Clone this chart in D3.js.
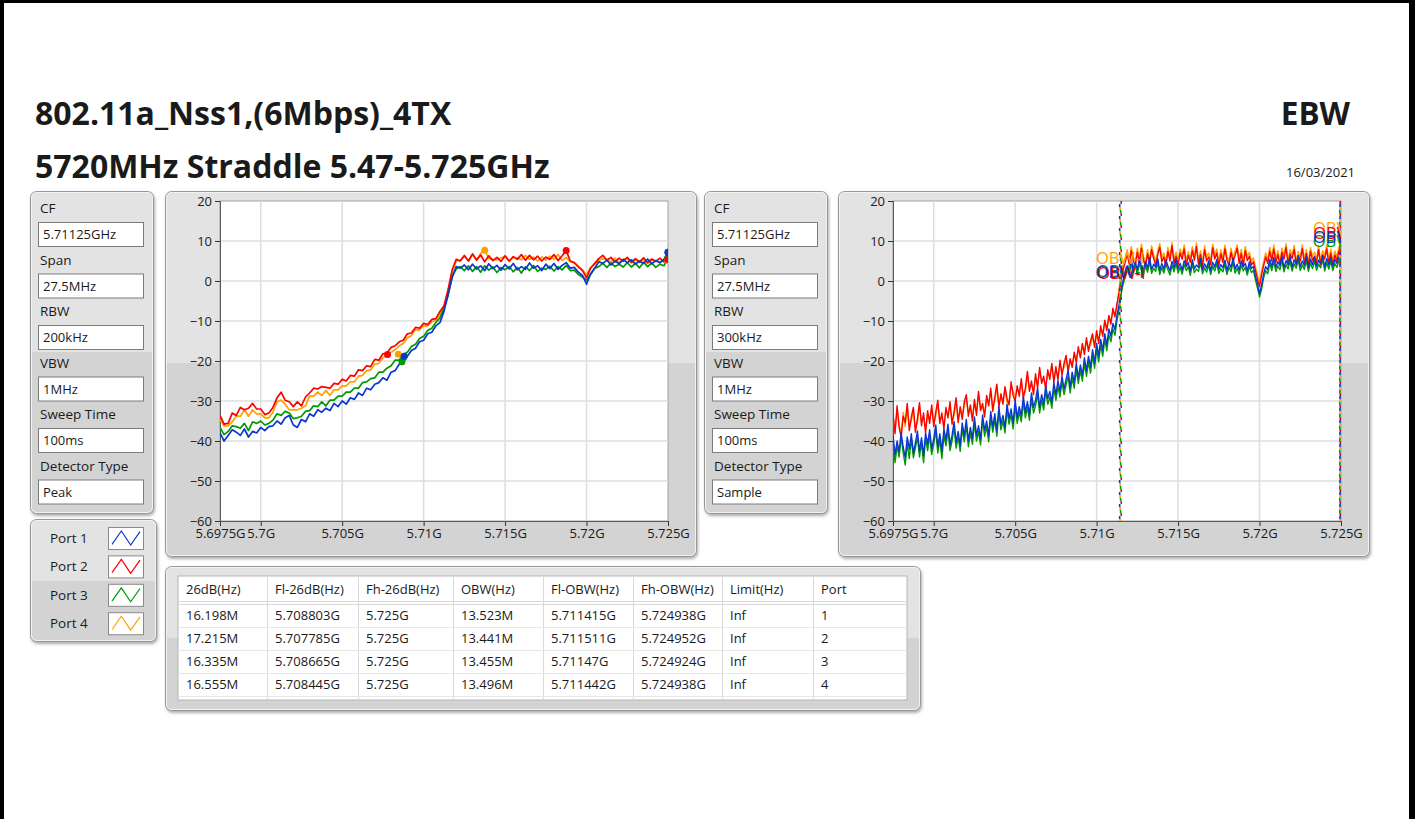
<!DOCTYPE html>
<html>
<head>
<meta charset="utf-8">
<script src="https://cdn.jsdelivr.net/npm/d3@7"></script>
<style>
body { margin: 0; background: #fff; }
svg text { font-family: "Open Sans", "Noto Sans", sans-serif; fill: #1a1a1a; }
</style>
</head>
<body>
<div id="chart"></div>
<script>
// ---- text ----
var title1 = "802.11a_Nss1,(6Mbps)_4TX";
var title2 = "5720MHz Straddle 5.47-5.725GHz";
var testName = "EBW";
var testDate = "16/03/2021";

// ---- analyser settings ----
var settingLabels = ["CF", "Span", "RBW", "VBW", "Sweep Time", "Detector Type"];
var settingsLeft = ["5.71125GHz", "27.5MHz", "200kHz", "1MHz", "100ms", "Peak"];
var settingsRight = ["5.71125GHz", "27.5MHz", "300kHz", "1MHz", "100ms", "Sample"];

// ---- axes ----
var fStart = 5.6975, fStop = 5.725;   // GHz, sweep span
var xTicks = [5.6975, 5.7, 5.705, 5.71, 5.715, 5.72, 5.725];
var xTickLabels = ["5.6975G", "5.7G", "5.705G", "5.71G", "5.715G", "5.72G", "5.725G"];
var yTicks = [20, 10, 0, -10, -20, -30, -40, -50, -60];

// ---- ports ----
var portNames = ["Port 1", "Port 2", "Port 3", "Port 4"];
var portColors = ["#0838d0", "#ff0000", "#009a00", "#ffa200"];

// ---- left chart traces (peak detector, 0.25 MHz points), dBm ----
var peakPort1 = [-38,-40,-38.6,-37.2,-37.8,-38.6,-37,-39,-37.6,-38,
  -36.6,-37.4,-36.4,-36.2,-35,-35.8,-34.2,-33.6,-36,-36.6,
  -34.6,-35.2,-33.2,-33.8,-32.2,-32.8,-31.8,-32.4,-30.6,-31.4,
  -30,-30.8,-29.2,-29.6,-28,-28.6,-26.8,-27.2,-25.8,-25.4,
  -24.2,-24.8,-22.8,-22.4,-20.8,-20.4,-18.8,-17.4,-16.8,-15.2,
  -14.8,-13.2,-12.8,-11.2,-10.4,-7.6,-3.4,0.8,3.6,3.2,
  4.0,2.8,4.2,3.0,3.8,2.6,4.3,3.1,3.9,2.7,
  4.1,3.0,4.4,2.8,3.6,2.9,4.5,3.2,3.8,2.6,
  4.2,3.1,4.4,2.9,3.9,4.6,3.2,3.4,2.2,1.4,
  -0.8,1.8,3.2,4.8,4.4,5.2,4.0,5.0,4.3,5.4,
  4.6,5.3,4.2,5.0,4.4,5.5,4.3,5.1,4.6,5.4,7.2];
var peakPort2 = [-33.6,-35.8,-35.6,-33,-33.6,-31.6,-32.2,-31.8,-30.6,-32,
  -32,-33.4,-33,-31.6,-29.2,-27.8,-29.8,-30.2,-31.4,-30.2,
  -31.2,-29,-28,-26.8,-27,-26.4,-26.6,-26.8,-25.6,-25.8,
  -24.6,-25,-23.6,-23.8,-22.2,-22.4,-21.2,-21.4,-19.6,-19.8,
  -18.2,-18,-16.6,-16.2,-15.2,-14.8,-13.2,-13,-11.6,-11.8,
  -10.6,-10.9,-9.6,-9.4,-7.6,-6.2,-2.2,2.8,5.4,5.0,
  6.4,5.0,6.8,5.2,6.5,4.8,6.3,5.1,5.9,4.9,
  6.3,5.0,6.1,5.4,6.6,5.2,6.4,5.3,6.2,5.0,
  6.0,5.4,6.6,5.1,6.3,7.6,5.0,4.6,3.6,2.6,
  0.8,3.2,4.4,5.6,6.4,5.2,5.9,4.8,5.7,4.9,
  5.9,4.7,5.6,4.8,5.8,4.6,5.5,4.9,5.7,4.8,5.4];
var peakPort3 = [-36.6,-38.4,-37.6,-36.2,-36.4,-36.8,-35.6,-37.4,-35.2,-35.6,
  -35,-36,-35.6,-34.8,-33.2,-33.6,-32.6,-33,-34.4,-34.2,
  -33.8,-32.6,-32.4,-31.2,-31.4,-30.2,-31.2,-29.8,-29.8,-28.8,
  -28.8,-27.8,-27.8,-26.8,-26.8,-25.4,-25.2,-24.4,-24.2,-22.8,
  -22.8,-21.8,-21.2,-19.8,-19.8,-18.4,-17.8,-16.4,-15.8,-14.4,
  -13.8,-12.4,-11.8,-10.4,-9.2,-6.8,-3.6,1.2,3.0,3.6,
  2.6,3.8,2.4,3.6,2.2,3.8,2.7,3.5,2.1,3.4,
  2.8,3.6,2.3,3.4,2.0,3.6,2.6,3.9,2.4,3.2,
  2.9,3.7,2.5,3.6,2.8,3.9,2.6,2.7,1.6,1.0,
  0.2,1.6,3.2,3.6,4.4,3.4,4.5,3.6,4.2,3.5,
  4.6,3.5,4.4,3.3,4.7,3.6,4.5,3.4,4.2,3.8,5.8];
var peakPort4 = [-34.6,-36.2,-36.2,-35.2,-33.8,-33.8,-32.2,-33.8,-32.2,-33.2,
  -33.2,-34.2,-34.2,-32.8,-30.2,-29.8,-30.8,-32.2,-32.2,-32.2,
  -31.8,-31.2,-28.8,-28.8,-27.8,-28.6,-27.4,-28.6,-27.2,-27.2,
  -26.2,-26.2,-25.2,-25.2,-23.8,-23.6,-22.4,-22.2,-20.8,-20.6,
  -19.2,-18.6,-17.8,-17.2,-16.2,-15.6,-14.2,-13.6,-12.2,-12.2,
  -11.2,-11.2,-10.2,-9.8,-8.2,-6.8,-2.8,2.2,5.0,5.2,
  6.2,5.0,6.6,5.4,6.9,7.7,5.6,5.4,5.3,5.8,
  6.1,4.9,5.9,5.8,5.3,6.4,5.4,6.0,5.0,6.0,
  5.2,6.2,5.4,6.6,5.1,5.9,4.8,4.5,3.4,2.8,
  1.6,3.4,4.2,5.2,5.6,5.4,4.7,5.7,4.6,5.4,
  5.7,4.5,5.3,4.6,5.6,4.4,5.2,5.1,4.5,5.3,5.2];

// ---- right chart traces (sample detector, 0.125 MHz points), dBm ----
var samplePort1 = [-38.5,-43.5,-40,-42.8,-37.9,-41.5,-44.2,-39,-42,-38.2,
  -43,-40.5,-37.5,-42.5,-39.2,-43.6,-38,-40.8,-37.2,-42,
  -39.5,-36,-41.5,-38.2,-42.6,-37,-39.8,-35.8,-41,-38.6,
  -35.2,-40.4,-37.6,-41.2,-35.5,-38.8,-34.6,-40,-36.6,-39.4,
  -34,-38.6,-36.2,-39.6,-33.5,-37.4,-35,-38.8,-32.6,-36.5,
  -33.2,-37.4,-31.5,-35.8,-33.6,-36.6,-30.8,-34.4,-32,-35.6,
  -29.8,-34.2,-31.4,-33.8,-28.9,-32.8,-30.2,-33.4,-28,-31.6,
  -29.8,-26.8,-31.6,-28.4,-30.8,-26.2,-29.4,-27.6,-30.4,-25.4,
  -28.4,-25,-27.6,-23.8,-27,-24.6,-22.4,-26.6,-22.8,-25.4,
  -20.6,-24.2,-21,-23.6,-19.2,-22.4,-18.8,-21.6,-17.2,-20.4,
  -15.6,-18.8,-14.6,-17.4,-13.2,-16,-12,-13.8,-10.6,-12.2,
  -8.5,-6,-2.4,0.2,1.8,3.6,2.6,5.2,3.2,4.6,
  2.8,5.4,3.6,2.4,4.8,3.2,5.8,2.9,4.2,3.4,
  5.6,2.6,4.4,3.0,5.2,3.8,2.5,4.9,3.3,5.5,
  3.0,4.4,2.7,5.1,3.6,4.6,2.4,5.3,3.1,4.0,
  3.4,5.6,2.8,4.3,3.2,5.0,2.6,4.7,3.5,5.4,
  2.9,4.1,3.3,5.2,2.6,4.5,3.4,5.7,3.0,4.2,
  2.7,5.0,3.5,4.4,2.5,4.8,3.1,3.6,1.2,-0.8,
  -3.2,-1.0,1.8,3.6,2.8,5.4,3.6,5.9,3.4,4.8,
  3.8,6.2,3.3,5.1,4.0,6.0,3.5,5.3,4.2,6.3,
  3.6,5.0,3.9,6.1,3.4,5.5,4.1,6.0,3.7,5.2,
  4.3,6.4,3.5,5.6,4.0,5.9,3.6,5.4,4.4,6.0,5.0];
var samplePort2 = [-33,-38.2,-31.2,-36.6,-39,-33.8,-35.4,-30.6,-37.4,-34,
  -31.6,-37.8,-34.4,-30.4,-36.2,-33,-38,-32.4,-35.6,-31,
  -36.4,-32.8,-29.8,-35.6,-33,-37,-31.6,-34.2,-30.2,-35.8,
  -32.6,-29.2,-35.4,-31.4,-34.6,-30.2,-28.4,-33.8,-31,-35,
  -29.6,-33.6,-27.6,-32.4,-30.6,-34,-28.6,-31.2,-26.8,-32.6,
  -29,-25.8,-31.6,-28.2,-30.8,-26.4,-29.4,-31,-25.2,-28.6,
  -30,-26.2,-28.8,-24.4,-29.4,-26.8,-22.6,-27.6,-25,-28.4,
  -23.2,-26.8,-21.6,-25.6,-23.8,-27,-22.2,-24.6,-20.6,-25.4,
  -21.4,-24.8,-19.8,-23.6,-20.6,-18.6,-22.8,-19.4,-21.6,-17.8,
  -20.4,-16.4,-19.2,-15.6,-18.4,-14.2,-17.6,-15,-13.2,-16.6,
  -12.4,-15.6,-11.2,-13.8,-9.8,-12.4,-8.6,-10.8,-6.8,-9,
  -5.6,-3,0.4,2.8,4.6,6.8,4.2,7.6,5.0,3.8,
  7.2,4.6,8.2,5.2,3.6,6.8,4.4,7.8,5.6,3.9,
  6.6,8.4,4.8,6.0,3.8,7.4,5.0,8.8,4.4,6.2,
  4.0,7.0,5.4,8.0,3.9,6.4,4.6,7.6,5.2,8.6,
  4.2,6.6,3.6,7.8,5.0,6.0,4.1,8.3,5.5,7.0,
  3.8,6.8,4.6,8.0,5.2,3.9,7.2,4.8,6.4,8.2,
  4.4,6.9,3.7,7.6,5.1,6.2,4.0,4.8,2.6,0.4,
  -1.4,1.6,3.8,6.0,4.4,7.4,5.0,8.0,4.6,6.6,
  3.9,7.2,5.4,8.4,4.2,6.8,5.6,7.9,4.0,6.4,
  5.0,8.1,4.4,6.9,3.8,7.4,5.2,6.2,4.6,7.8,
  4.1,6.6,5.5,8.0,4.3,7.0,3.9,6.5,5.0,7.6,6.0];
var samplePort3 = [-40,-45.4,-41.2,-44,-39,-43,-46,-40.6,-44.4,-39.4,
  -44.2,-41.8,-39,-44,-40.4,-45.4,-39.4,-42.4,-38.6,-43.4,
  -40.8,-37.4,-43,-39.6,-44.4,-38.6,-41.2,-37.2,-42.4,-40,
  -36.6,-41.8,-39,-42.6,-36.8,-40.2,-36,-41.4,-38,-40.8,
  -35.4,-40,-37.6,-41,-34.8,-38.8,-36.4,-40.2,-34,-37.8,
  -34.6,-38.8,-32.8,-37.2,-35,-38,-32.2,-35.8,-33.4,-37,
  -31.2,-35.6,-32.8,-35.2,-30.2,-34.2,-31.6,-34.8,-29.4,-33,
  -31.2,-28.2,-33,-29.8,-32.2,-27.6,-30.8,-29,-31.8,-26.8,
  -29.8,-26.4,-29,-25.2,-28.4,-26,-23.8,-28,-24.2,-26.8,
  -22,-25.6,-22.4,-25,-20.6,-23.8,-20.2,-23,-18.6,-21.8,
  -17,-20.2,-16,-18.8,-14.6,-17.4,-13.4,-15.2,-12,-13.6,
  -9.8,-7.2,-3.4,-0.8,1.0,2.6,1.6,4.2,2.2,3.6,
  1.8,4.4,2.6,1.4,3.8,2.2,4.8,1.9,3.2,2.4,
  4.6,1.6,3.4,2.0,4.2,2.8,1.5,3.9,2.3,4.5,
  2.0,3.4,1.7,4.1,2.6,3.6,1.4,4.3,2.1,3.0,
  2.4,4.6,1.8,3.3,2.2,4.0,1.6,3.7,2.5,4.4,
  1.9,3.1,2.3,4.2,1.6,3.5,2.4,4.7,2.0,3.2,
  1.7,4.0,2.5,3.4,1.5,3.8,2.1,2.6,0.2,-1.8,
  -4.0,-2.0,0.8,2.6,1.8,4.4,2.6,4.9,2.4,3.8,
  2.8,5.2,2.3,4.1,3.0,5.0,2.5,4.3,3.2,5.3,
  2.6,4.0,2.9,5.1,2.4,4.5,3.1,5.0,2.7,4.2,
  3.3,5.4,2.5,4.6,3.0,4.9,2.6,4.4,3.4,5.0,4.0];
var samplePort4 = [-34,-37.2,-32.2,-35.6,-38.4,-32.8,-36.4,-31.6,-36.4,-35,
  -32.6,-36.8,-35.4,-31.4,-35.2,-34,-37,-33.4,-34.6,-32,
  -35.4,-33.8,-30.8,-34.6,-34,-36,-32.6,-33.2,-31.2,-34.8,
  -33.6,-30.2,-34.4,-32.4,-33.6,-31.2,-29.4,-32.8,-32,-34,
  -30.6,-32.6,-28.6,-31.4,-31.6,-33,-29.6,-30.2,-27.8,-31.6,
  -30,-26.8,-30.6,-29.2,-29.8,-27.4,-30.4,-30,-26.2,-27.6,
  -29,-27.2,-27.8,-25.4,-28.4,-27.8,-23.6,-26.6,-26,-27.4,
  -24.2,-25.8,-22.6,-24.6,-24.8,-26,-23.2,-23.6,-21.6,-24.4,
  -22.4,-23.8,-20.8,-22.6,-21.6,-19.6,-21.8,-20.4,-20.6,-18.8,
  -19.4,-17.4,-18.2,-16.6,-17.4,-15.2,-16.6,-16,-14.2,-15.6,
  -13.4,-14.6,-12.2,-12.8,-10.8,-11.4,-9.6,-9.8,-7.8,-8,
  -6.6,-2,1.4,3.8,5.6,7.8,5.2,8.6,6.0,4.8,
  8.2,5.6,9.2,6.2,4.6,7.8,5.4,8.8,6.6,4.9,
  7.6,9.4,5.8,7.0,4.8,8.4,6.0,9.6,5.4,7.2,
  5.0,8.0,6.4,9.0,4.9,7.4,5.6,8.6,6.2,9.5,
  5.2,7.6,4.6,8.8,6.0,7.0,5.1,9.2,6.5,8.0,
  4.8,7.8,5.6,9.0,6.2,4.9,8.2,5.8,7.4,9.1,
  5.4,7.9,4.7,8.6,6.1,7.2,5.0,5.8,3.6,1.4,
  -0.4,2.6,4.8,7.0,5.4,8.4,6.0,9.0,5.6,7.6,
  4.9,8.2,6.4,9.3,5.2,7.8,6.6,8.9,5.0,7.4,
  6.0,9.0,5.4,7.9,4.8,8.4,6.2,7.2,5.6,8.8,
  5.1,7.6,6.5,9.0,5.3,8.0,4.9,7.5,6.0,8.6,7.0];

// ---- peak markers (left chart) ----
var peakFreq = [5.725, 5.71875, 5.725, 5.71375];
var peakLevel = [7.2, 7.6, 5.8, 7.7];

// ---- results table ----
var tableHeader = ["26dB(Hz)", "Fl-26dB(Hz)", "Fh-26dB(Hz)", "OBW(Hz)", "Fl-OBW(Hz)", "Fh-OBW(Hz)", "Limit(Hz)", "Port"];
var bw26 = [16.198, 17.215, 16.335, 16.555];            // MHz
var fl26 = [5.708803, 5.707785, 5.708665, 5.708445];    // GHz
var fh26 = [5.725, 5.725, 5.725, 5.725];
var obw = [13.523, 13.441, 13.455, 13.496];             // MHz
var flObw = [5.711415, 5.711511, 5.71147, 5.711442];
var fhObw = [5.724938, 5.724952, 5.724924, 5.724938];
var limit = ["Inf", "Inf", "Inf", "Inf"];
var portNo = [1, 2, 3, 4];

// ---- cursor label heights (right chart), dB ----
var obwLoLabel = [2.4, 2.1, 2.7, 5.8];
var obwHiLabel = [11.2, 12.2, 10.2, 13.4];

// Adds the svg canvas
var svg = d3.select("#chart").append("svg")
  .attr("width", 1415)
  .attr("height", 819);

var defs = svg.append("defs");
var shadow = defs.append("filter").attr("id", "shadow")
  .attr("x", "-5%").attr("y", "-5%").attr("width", "115%").attr("height", "120%");
shadow.append("feDropShadow").attr("dx", 1).attr("dy", 2).attr("stdDeviation", 1.5)
  .attr("flood-color", "#666").attr("flood-opacity", 0.55);

function panelGradient(split) {
  var id = "pg" + Math.round(split * 100);
  if (!defs.select("#" + id).empty()) return id;
  var g = defs.append("linearGradient").attr("id", id)
    .attr("x1", 0).attr("y1", 0).attr("x2", 0).attr("y2", 1);
  g.append("stop").attr("offset", 0).attr("stop-color", "#e3e3e3");
  g.append("stop").attr("offset", split).attr("stop-color", "#e3e3e3");
  g.append("stop").attr("offset", split).attr("stop-color", "#d3d3d3");
  g.append("stop").attr("offset", 1).attr("stop-color", "#d3d3d3");
  return id;
}

// page frame
svg.append("rect").attr("x", 0).attr("y", 0).attr("width", 4).attr("height", 819).attr("fill", "#000");
svg.append("rect").attr("x", 0).attr("y", 0).attr("width", 1415).attr("height", 3).attr("fill", "#000");
svg.append("rect").attr("x", 1409).attr("y", 0).attr("width", 6).attr("height", 819).attr("fill", "#000");

// titles
svg.append("text").attr("x", 35).attr("y", 125).attr("font-size", 32).attr("font-weight", "bold").text(title1);
svg.append("text").attr("x", 35).attr("y", 178).attr("font-size", 32).attr("font-weight", "bold").text(title2);
svg.append("text").attr("x", 1350).attr("y", 125).attr("font-size", 31.5).attr("font-weight", "bold")
  .attr("text-anchor", "end").text(testName);
svg.append("text").attr("x", 1355).attr("y", 177).attr("font-size", 13)
  .attr("text-anchor", "end").text(testDate);

function panel(x, y, w, h, split) {
  svg.append("rect").attr("x", x + 0.5).attr("y", y + 0.5).attr("width", w).attr("height", h).attr("rx", 6)
    .attr("fill", "url(#" + panelGradient(split || 0.5) + ")").attr("stroke", "#979797").attr("filter", "url(#shadow)");
  svg.append("rect").attr("x", x + 1.5).attr("y", y + 1.5).attr("width", w - 2).attr("height", h - 2).attr("rx", 5)
    .attr("fill", "none").attr("stroke", "#f2f2f2");
}

// settings panels
function settingsPanel(x, y, values) {
  panel(x, y, 123, 322, 0.5);
  settingLabels.forEach(function(lab, i) {
    var top = y + 31 + i * 51.5;
    svg.append("text").attr("x", x + 10).attr("y", top - 9).attr("font-size", 13.5).text(lab);
    svg.append("rect").attr("x", x + 8.5).attr("y", top + 0.5).attr("width", 105).attr("height", 24)
      .attr("fill", "#fff").attr("stroke", "#7c7c7c");
    svg.append("text").attr("x", x + 13).attr("y", top + 17).attr("font-size", 13).text(values[i]);
  });
}
settingsPanel(30, 191, settingsLeft);
settingsPanel(704, 191, settingsRight);

// spectrum chart
function drawChart(id, px, py, traces, lineW) {
  var plot = {x0: px + 55, x1: px + 503, y0: py + 10, y1: py + 330};
  panel(px, py, 531, 365, 0.47);

  var x = d3.scaleLinear().domain([fStart, fStop]).range([plot.x0, plot.x1]);
  var y = d3.scaleLinear().domain([-60, 20]).range([plot.y1, plot.y0]);

  svg.append("rect").attr("x", plot.x0).attr("y", plot.y0)
    .attr("width", plot.x1 - plot.x0).attr("height", plot.y1 - plot.y0)
    .attr("fill", "#fff").attr("stroke", "#a2a2a2");

  defs.append("clipPath").attr("id", id).append("rect")
    .attr("x", plot.x0).attr("y", plot.y0)
    .attr("width", plot.x1 - plot.x0).attr("height", plot.y1 - plot.y0);

  var grid = svg.append("g").attr("stroke", "#dedede").attr("stroke-width", 1.5);
  grid.selectAll(".gx").data(xTicks.slice(1, -1)).enter().append("line")
    .attr("x1", function(d) { return x(d); }).attr("x2", function(d) { return x(d); })
    .attr("y1", plot.y0).attr("y2", plot.y1);
  grid.selectAll(".gy").data(yTicks.slice(1, -1)).enter().append("line")
    .attr("y1", function(d) { return y(d); }).attr("y2", function(d) { return y(d); })
    .attr("x1", plot.x0).attr("x2", plot.x1);

  var xAxis = d3.axisBottom(x).tickValues(xTicks)
    .tickFormat(function(d, i) { return xTickLabels[i]; }).tickSize(5).tickPadding(3);
  var yAxis = d3.axisLeft(y).tickValues(yTicks).tickSize(5).tickPadding(3);

  var gx = svg.append("g").attr("transform", "translate(0," + plot.y1 + ")").call(xAxis);
  var gy = svg.append("g").attr("transform", "translate(" + plot.x0 + ",0)").call(yAxis);
  [gx, gy].forEach(function(g) {
    g.attr("font-family", null).attr("font-size", 13);
    g.select(".domain").attr("stroke", "#5a5a5a");
    g.selectAll(".tick line").attr("stroke", "#333");
    g.selectAll(".tick text").attr("fill", "#222");
  });

  var layer = svg.append("g").attr("clip-path", "url(#" + id + ")");
  [3, 2, 1, 0].forEach(function(p) {
    var vals = traces[p];
    var step = (fStop - fStart) / (vals.length - 1);   // sweep points are evenly spaced
    var line = d3.line()
      .x(function(d, i) { return x(fStart + i * step); })
      .y(function(d) { return y(d); });
    layer.append("path").attr("d", line(vals))
      .attr("fill", "none").attr("stroke", portColors[p]).attr("stroke-width", lineW)
      .attr("stroke-linejoin", "round");
  });
  return {x: x, y: y, layer: layer};
}

var leftTraces = [peakPort1, peakPort2, peakPort3, peakPort4];
var rightTraces = [samplePort1, samplePort2, samplePort3, samplePort4];

var c1 = drawChart("clip1", 165, 191, leftTraces, 1.7);
// peak and -26 dB markers
[3, 2, 1, 0].forEach(function(p) {
  var last = leftTraces[p][leftTraces[p].length - 1];
  var pts = [[peakFreq[p], peakLevel[p]], [fl26[p], peakLevel[p] - 26], [fh26[p], last]];
  c1.layer.selectAll(".m" + p).data(pts).enter().append("circle")
    .attr("cx", function(d) { return c1.x(d[0]); })
    .attr("cy", function(d) { return c1.y(d[1]); })
    .attr("r", 3.5).attr("fill", portColors[p]);
});

var c2 = drawChart("clip2", 838, 191, rightTraces, 1.4);
// OBW cursors
[1, 0, 3, 2].forEach(function(p, k) {
  [flObw[p], fhObw[p]].forEach(function(f) {
    c2.layer.append("line")
      .attr("x1", c2.x(f)).attr("x2", c2.x(f))
      .attr("y1", c2.y(20)).attr("y2", c2.y(-60))
      .attr("stroke", portColors[p]).attr("stroke-width", 1.6)
      .attr("stroke-dasharray", "3,9").attr("stroke-dashoffset", -k * 3);
  });
});
[3, 2, 1, 0].forEach(function(p) {
  c2.layer.append("text").attr("x", c2.x(flObw[p])).attr("y", c2.y(obwLoLabel[p]))
    .attr("text-anchor", "middle").attr("dominant-baseline", "central")
    .attr("font-size", 16.5).style("fill", portColors[p]).text("OBW-l");
  c2.layer.append("text").attr("x", c2.x(fhObw[p])).attr("y", c2.y(obwHiLabel[p]))
    .attr("text-anchor", "middle").attr("dominant-baseline", "central")
    .attr("font-size", 16.5).style("fill", portColors[p]).text("OBW-h");
});

// legend
panel(30, 519, 126, 122, 0.5);
portNames.forEach(function(name, i) {
  var cy = 538 + i * 28.4;
  svg.append("text").attr("x", 50).attr("y", cy + 5).attr("font-size", 13.5).text(name);
  svg.append("rect").attr("x", 108.5).attr("y", cy - 10.5).attr("width", 35).attr("height", 22)
    .attr("fill", "#fff").attr("stroke", "#8a8a8a");
  var sx = d3.scaleLinear().domain([0, 3]).range([112, 140]);
  var sy = d3.scaleLinear().domain([0, 1]).range([cy + 7, cy - 7]);
  svg.append("path").attr("d", d3.line().x(function(d, k) { return sx(k); }).y(function(d) { return sy(d); })([0.05, 1, 0, 0.95]))
    .attr("fill", "none").attr("stroke", portColors[i]).attr("stroke-width", 1.2);
});

// results table
panel(165, 566, 755, 144, 0.5);
var colEdges = [178, 267, 358, 453, 543, 633, 722, 813, 907];
var tTop = 576, headH = 27, rowH = 23;
svg.append("rect").attr("x", colEdges[0]).attr("y", tTop).attr("width", colEdges[8] - colEdges[0])
  .attr("height", 124).attr("fill", "#fff").attr("stroke", "#b5b5b5");
var tg = svg.append("g").attr("stroke", "#d9d9d9");
colEdges.slice(1, -1).forEach(function(cx) {
  tg.append("line").attr("x1", cx + 0.5).attr("x2", cx + 0.5).attr("y1", tTop).attr("y2", tTop + 124);
});
[tTop + headH - 2, tTop + headH + 1].forEach(function(ly) {
  tg.append("line").attr("x1", colEdges[0]).attr("x2", colEdges[8]).attr("y1", ly + 0.5).attr("y2", ly + 0.5);
});
d3.range(1, 5).forEach(function(r) {
  var ly = tTop + headH + 1 + r * rowH;
  tg.append("line").attr("x1", colEdges[0]).attr("x2", colEdges[8]).attr("y1", ly + 0.5).attr("y2", ly + 0.5)
    .attr("stroke", "#e6e6e6");
});
tableHeader.forEach(function(h, c) {
  svg.append("text").attr("x", colEdges[c] + 8).attr("y", tTop + 18).attr("font-size", 13).text(h);
});
var tableRows = portNo.map(function(d, i) {
  return [bw26[i] + "M", fl26[i] + "G", fh26[i] + "G", obw[i] + "M", flObw[i] + "G", fhObw[i] + "G", limit[i], portNo[i]];
});
tableRows.forEach(function(row, r) {
  row.forEach(function(v, c) {
    svg.append("text").attr("x", colEdges[c] + 8).attr("y", tTop + headH + 1 + r * rowH + 16)
      .attr("font-size", 13).text(v);
  });
});
</script>
</body>
</html>
